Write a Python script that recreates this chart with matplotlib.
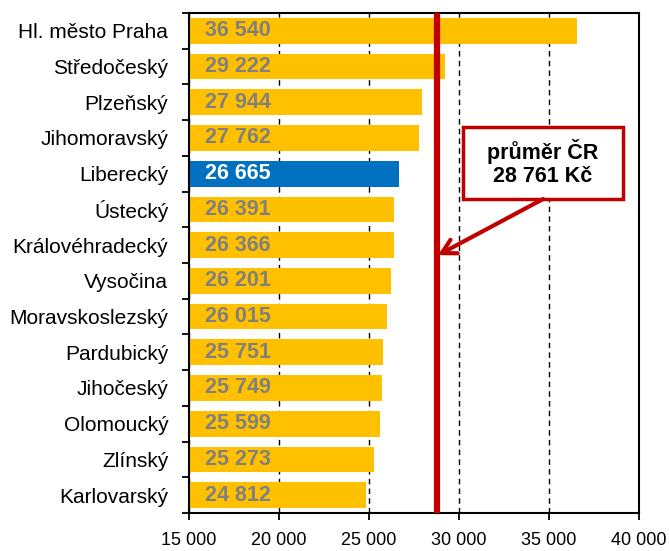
import matplotlib.pyplot as plt
from matplotlib.patches import Rectangle
from matplotlib.ticker import FuncFormatter

# Data
regions = ["Hl. město Praha", "Středočeský", "Plzeňský", "Jihomoravský", "Liberecký",
           "Ústecký", "Královéhradecký", "Vysočina", "Moravskoslezský", "Pardubický",
           "Jihočeský", "Olomoucký", "Zlínský", "Karlovarský"]
wages = [36540, 29222, 27944, 27762, 26665, 26391, 26366, 26201, 26015, 25751,
         25749, 25599, 25273, 24812]
highlight = "Liberecký"
cr_average = 28761

YELLOW = "#FFC000"
BLUE = "#0070C0"
RED = "#C00000"

plt.rcParams["font.family"] = ["Liberation Sans", "DejaVu Sans"]

fig = plt.figure(figsize=(6.69, 5.51), dpi=100)
ax = fig.add_axes([0.2825, 0.069, 0.6727, 0.9074])

x_min, x_max = 15000, 40000
pos = list(range(len(regions)))
colors = [BLUE if r == highlight else YELLOW for r in regions]
ax.barh(pos, [w - x_min for w in wages], left=x_min, height=0.72, color=colors, zorder=2)

# value labels inside the bars
for i, (r, w) in enumerate(zip(regions, wages)):
    ax.annotate(f"{w:,}".replace(",", " "), xy=(x_min, i), xytext=(11.5, 0),
                textcoords="offset points", va="center", ha="left",
                fontsize=15.5, fontweight="bold",
                color="white" if r == highlight else "#808080", zorder=3)

ax.set_xlim(x_min, x_max)
ax.set_ylim(len(regions) - 0.5, -0.5)

# axis ticks
ax.set_xticks(range(x_min, x_max + 1, 5000))
ax.xaxis.set_major_formatter(FuncFormatter(lambda v, p: f"{int(v):,}".replace(",", " ")))
ax.tick_params(axis="x", direction="out", length=5, width=1.3, pad=9, labelsize=13)

ax.set_yticks([i - 0.5 for i in range(len(regions) + 1)])
ax.set_yticklabels([])
ax.set_yticks(pos, minor=True)
ax.set_yticklabels(regions, minor=True, fontsize=15)
ax.tick_params(axis="y", which="major", direction="out", length=5, width=1.3)
ax.tick_params(axis="y", which="minor", length=0, pad=15)

for s in ax.spines.values():
    s.set_linewidth(1.5)
    s.set_color("black")

ax.xaxis.grid(True, linestyle=(0, (4, 3)), color="black", linewidth=1)
ax.set_axisbelow(True)

# average line
ax.axvline(cr_average, color=RED, linewidth=4.5, zorder=4)

# callout box with arrow
ax.add_patch(Rectangle((30222, 2.69), 8889, 2.02, facecolor="white",
                       edgecolor=RED, linewidth=2.5, zorder=5))
ax.text(34667, 3.7, "průměr ČR\n" + f"{cr_average:,}".replace(",", " ") + " Kč",
        ha="center", va="center", fontsize=15.5, fontweight="bold",
        linespacing=1.15, zorder=6)
ax.annotate("", xy=(28833, 6.28), xytext=(34667, 4.71),
            arrowprops=dict(arrowstyle="->,head_length=1.0,head_width=0.55",
                            lw=3, color=RED, shrinkA=0, shrinkB=0),
            zorder=6)

fig.savefig("out.png", dpi=100)
